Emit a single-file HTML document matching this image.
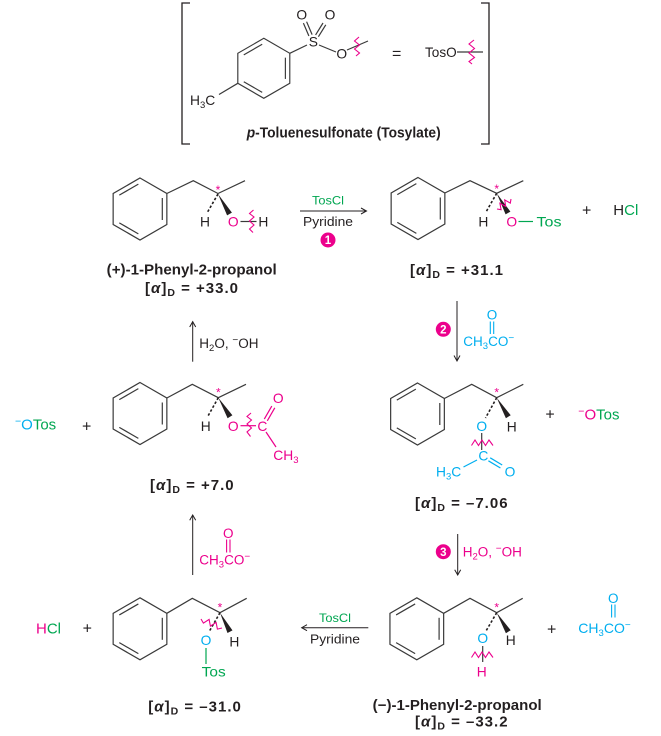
<!DOCTYPE html>
<html><head><meta charset="utf-8"><style>
html,body{margin:0;padding:0;background:#fff;}
svg{display:block;}
text{font-family:"Liberation Sans",Arial,sans-serif;}
.a{font-size:13.8px;fill:#231f20;}
.p{fill:#ec008c;} .g{fill:#00a651;} .b{fill:#00aeef;} .k{fill:#231f20;}
.bl{font-size:14.5px;font-weight:bold;fill:#231f20;}
.ln{stroke:#3a3a3a;stroke-width:1.2;fill:none;}
.ar{stroke:#231f20;stroke-width:1;fill:none;}
.zz{stroke:#ec008c;stroke-width:1.1;fill:none;}
.hs{stroke:#231f20;stroke-width:1.6;stroke-dasharray:2.5,2;fill:none;}
.pl{font-size:16px;fill:#231f20;}
.al{font-size:15px;font-weight:bold;fill:#231f20;letter-spacing:1px;}
</style></head><body>
<svg width="661" height="736" viewBox="0 0 661 736" xmlns="http://www.w3.org/2000/svg">
<defs>
<g id="bz" fill="none" stroke="#3a3a3a" stroke-width="1.2">
<polygon points="0,-31 26.85,-15.5 26.85,15.5 0,31 -26.85,15.5 -26.85,-15.5"/>
<line x1="22.3" y1="-11" x2="22.3" y2="11"/>
<line x1="-20.7" y1="-13.85" x2="-1.65" y2="-24.85"/>
<line x1="-20.7" y1="13.85" x2="-1.65" y2="24.85"/>
</g>
</defs>

<!-- ===== Tosylate box ===== -->
<path d="M190,3 H182 V144 H190 M481,3 H489 V144 H481" stroke="#231f20" stroke-width="1.3" fill="none"/>
<use href="#bz" transform="translate(263.8,68.3) scale(0.968)"/>
<line class="ln" x1="237.8" y1="83.3" x2="219" y2="94.5"/>
<text class="a" x="190" y="105">H<tspan style="font-size:9.5px" dy="3">3</tspan><tspan dy="-3">C</tspan></text>
<line class="ln" x1="289.8" y1="53.3" x2="307" y2="45"/>
<text class="a" x="313.3" y="46.5" text-anchor="middle">S</text>
<line class="ln" x1="312.1" y1="34.6" x2="306.6" y2="21.7"/>
<line class="ln" x1="308.9" y1="36" x2="303.4" y2="23.1"/>
<line class="ln" x1="318.4" y1="36.7" x2="325.8" y2="24.8"/>
<line class="ln" x1="315.6" y1="34.9" x2="323" y2="23"/>
<text class="a" x="301.7" y="19.7" text-anchor="middle">O</text>
<text class="a" x="330" y="19.7" text-anchor="middle">O</text>
<line class="ln" x1="319" y1="45" x2="336" y2="52"/>
<text class="a" x="341.7" y="58.7" text-anchor="middle">O</text>
<line class="ln" x1="347" y1="50" x2="368" y2="41"/>
<path class="zz" d="M359,37 L354.5,41 L359.5,45 L354.5,49 L359.5,53 L356,56"/>
<text class="pl" x="396.7" y="58.5" text-anchor="middle">=</text>
<text class="a" x="425" y="57" textLength="31.7" lengthAdjust="spacingAndGlyphs">TosO</text>
<line class="ln" x1="457" y1="52" x2="483" y2="52"/>
<path class="zz" d="M474,40 L469,44 L474.5,48.5 L469,53 L474.5,57.5 L469,61.5 L472,64"/>
<text class="bl" x="246.7" y="137.5" textLength="194" lengthAdjust="spacingAndGlyphs"><tspan font-style="italic">p</tspan>-Toluenesulfonate (Tosylate)</text>

<!-- ===== Mol 1: (+)-alcohol ===== -->
<use href="#bz" x="140" y="209"/>
<polyline class="ln" points="166.85,193.5 193.3,180.7 218,193.5 245,180.7"/>
<text class="p" x="218" y="194" style="font-size:12px" text-anchor="middle">*</text>
<line class="hs" x1="218" y1="194" x2="207" y2="213"/>
<polygon points="218,194 231.9,212.6 227.1,215.4" fill="#231f20"/>
<text class="a" x="205" y="226.7" text-anchor="middle">H</text>
<text class="a p" x="233.3" y="226.7" text-anchor="middle">O</text>
<line class="ln" x1="240.5" y1="221.5" x2="256.5" y2="221.5"/>
<path class="zz" d="M253.5,210 L249.5,213.5 L254,217 L249.5,221 L254,225 L249.5,229 L253,232.5"/>
<text class="a" x="263.3" y="226.7" text-anchor="middle">H</text>
<text class="bl" x="191.7" y="274.5" text-anchor="middle" textLength="170" lengthAdjust="spacingAndGlyphs">(+)-1-Phenyl-2-propanol</text>
<text class="al" x="145" y="293">[<tspan font-style="italic">α</tspan>]<tspan style="font-size:10.5px" dy="3">D</tspan><tspan dy="-3"> = +33.0</tspan></text>

<!-- Arrow 1 -->
<line class="ar" x1="300" y1="211" x2="366.5" y2="211"/>
<polyline class="ar" points="361,208 366.5,211 361,214"/>
<text class="g" x="328" y="204.5" style="font-size:12px" text-anchor="middle" textLength="32" lengthAdjust="spacingAndGlyphs">TosCl</text>
<text class="k" x="328" y="226" style="font-size:12.5px" text-anchor="middle" textLength="50" lengthAdjust="spacingAndGlyphs">Pyridine</text>
<circle cx="328" cy="240" r="7.5" fill="#ec008c"/>
<text x="328" y="244.2" style="font-size:11.5px;font-weight:bold" fill="#fff" text-anchor="middle">1</text>

<!-- ===== Mol 2: tosylate (+31.1) ===== -->
<use href="#bz" x="418" y="208.5"/>
<polyline class="ln" points="444.85,193 470,180.7 496.7,193.3 523.3,180.7"/>
<text class="p" x="496.7" y="193" style="font-size:12px" text-anchor="middle">*</text>
<line class="hs" x1="496.7" y1="193.3" x2="486" y2="212"/>
<polygon points="496.7,193.3 510.4,211.6 505.6,214.4" fill="#231f20"/>
<path class="zz" d="M497,209 L501.1,209.7 L499.9,203.3 L505.7,206.4 L504.7,199.9 L510.3,203.1 L511,199"/>
<text class="a" x="483.3" y="226.7" text-anchor="middle">H</text>
<text class="a p" x="511.7" y="226.7" text-anchor="middle">O</text>
<line x1="518.5" y1="221.5" x2="533" y2="221.5" stroke="#00a651" stroke-width="1.2"/>
<text class="a g" x="536.5" y="226.7" textLength="25" lengthAdjust="spacingAndGlyphs">Tos</text>
<text class="pl" x="586.7" y="215.5" text-anchor="middle">+</text>
<text class="a" x="613.3" y="215" style="font-size:15px">H<tspan class="g">Cl</tspan></text>
<text class="al" x="410" y="275">[<tspan font-style="italic">α</tspan>]<tspan style="font-size:10.5px" dy="3">D</tspan><tspan dy="-3"> = +31.1</tspan></text>

<!-- Arrow 2 -->
<line class="ar" x1="457" y1="301" x2="457" y2="361"/>
<polyline class="ar" points="454,355.5 457,361 460,355.5"/>
<circle cx="443.3" cy="329.3" r="7.5" fill="#ec008c"/>
<text x="443.3" y="333.5" style="font-size:11.5px;font-weight:bold" fill="#fff" text-anchor="middle">2</text>
<text class="b" x="492" y="319.5" style="font-size:13.5px" text-anchor="middle">O</text>
<line x1="490.3" y1="321.5" x2="490.3" y2="334" stroke="#00aeef" stroke-width="1.1"/>
<line x1="493.7" y1="321.5" x2="493.7" y2="334" stroke="#00aeef" stroke-width="1.1"/>
<text class="b" x="463.3" y="346" style="font-size:13.5px">CH<tspan style="font-size:9.5px" dy="3">3</tspan><tspan dy="-3">CO</tspan><tspan style="font-size:10px" dy="-5">−</tspan></text>

<!-- ===== Mol 3: acetate (-7.06) ===== -->
<use href="#bz" x="417.5" y="414"/>
<polyline class="ln" points="444.35,398.5 471.7,384.3 496.7,397.7 523.3,384.3"/>
<text class="p" x="496.7" y="396.5" style="font-size:12px" text-anchor="middle">*</text>
<line class="hs" x1="496.7" y1="397.7" x2="485.5" y2="418"/>
<polygon points="496.7,397.7 510.7,415.2 505.9,418.2" fill="#231f20"/>
<text class="a b" x="481.7" y="430.9" text-anchor="middle">O</text>
<text class="a" x="511.7" y="431.6" text-anchor="middle">H</text>
<line class="ln" x1="481.7" y1="433" x2="481.7" y2="450"/>
<path class="zz" d="M471.5,445.5 L475,440 L478.5,445.5 L482,440 L485.5,445.5 L489,440 L493,445.5"/>
<text class="a b" x="483.3" y="460.6" text-anchor="middle">C</text>
<line x1="463.5" y1="467" x2="477" y2="460" stroke="#00aeef" stroke-width="1.2"/>
<text class="a b" x="436" y="476.4">H<tspan style="font-size:9.5px" dy="3">3</tspan><tspan dy="-3">C</tspan></text>
<line x1="488.4" y1="460.8" x2="500.4" y2="468" stroke="#00aeef" stroke-width="1.2"/>
<line x1="490.2" y1="457.8" x2="502.2" y2="465" stroke="#00aeef" stroke-width="1.2"/>
<text class="a b" x="510" y="476.4" text-anchor="middle">O</text>
<text class="pl" x="550" y="419.5" text-anchor="middle">+</text>
<text class="a" x="578.3" y="419.7" style="font-size:15px"><tspan class="p" style="font-size:10.5px" dy="-5">−</tspan><tspan class="p" dy="5">O</tspan><tspan class="g">Tos</tspan></text>
<text class="al" x="415" y="508">[<tspan font-style="italic">α</tspan>]<tspan style="font-size:10.5px" dy="3">D</tspan><tspan dy="-3"> = –7.06</tspan></text>

<!-- Arrow up (row1 left) -->
<line class="ar" x1="192.7" y1="321.7" x2="192.7" y2="361.7"/>
<polyline class="ar" points="189.7,327 192.7,321.7 195.7,327"/>
<text class="k" x="199.3" y="348" style="font-size:13.5px">H<tspan style="font-size:9.5px" dy="3">2</tspan><tspan dy="-3">O, </tspan><tspan style="font-size:10px" dy="-5">−</tspan><tspan dy="5">OH</tspan></text>

<!-- ===== Mol 4: acetate (+7.0) ===== -->
<use href="#bz" x="140" y="413.5"/>
<polyline class="ln" points="166.85,398 192.3,384.3 218.3,397.7 246,384.3"/>
<text class="p" x="218.3" y="396.5" style="font-size:12px" text-anchor="middle">*</text>
<line class="hs" x1="218.3" y1="397.7" x2="208" y2="416"/>
<polygon points="218.3,397.7 232.4,415.2 227.6,418.2" fill="#231f20"/>
<text class="a" x="205.7" y="430.9" text-anchor="middle">H</text>
<text class="a p" x="233.3" y="430.9" text-anchor="middle">O</text>
<line x1="240.5" y1="425.7" x2="256" y2="425.7" stroke="#ec008c" stroke-width="1.2"/>
<path class="zz" d="M251,413 L247,416.5 L251.5,420 L247,424 L251.5,428 L247,432 L250.5,436.5"/>
<text class="a p" x="262.3" y="430.9" text-anchor="middle">C</text>
<line x1="267.3" y1="420.8" x2="274.8" y2="407.8" stroke="#ec008c" stroke-width="1.2"/>
<line x1="264.3" y1="419.1" x2="271.8" y2="406.1" stroke="#ec008c" stroke-width="1.2"/>
<text class="a p" x="278.3" y="403.2" text-anchor="middle">O</text>
<line x1="266" y1="432" x2="276" y2="447" stroke="#ec008c" stroke-width="1.2"/>
<text class="a p" x="273.3" y="459.9">CH<tspan style="font-size:9.5px" dy="3">3</tspan></text>
<text class="a" x="15" y="429.7" style="font-size:15px"><tspan class="b" style="font-size:10.5px" dy="-5">−</tspan><tspan class="b" dy="5">O</tspan><tspan class="g">Tos</tspan></text>
<text class="pl" x="86.7" y="431.5" text-anchor="middle">+</text>
<text class="al" x="150" y="490">[<tspan font-style="italic">α</tspan>]<tspan style="font-size:10.5px" dy="3">D</tspan><tspan dy="-3"> = +7.0</tspan></text>

<!-- Arrow up (row2 left) -->
<line class="ar" x1="192.7" y1="515" x2="192.7" y2="575"/>
<polyline class="ar" points="189.7,520.3 192.7,515 195.7,520.3"/>
<text class="p" x="228.3" y="538" style="font-size:13.5px" text-anchor="middle">O</text>
<line x1="226.6" y1="539.5" x2="226.6" y2="552.5" stroke="#ec008c" stroke-width="1.1"/>
<line x1="230" y1="539.5" x2="230" y2="552.5" stroke="#ec008c" stroke-width="1.1"/>
<text class="p" x="199.3" y="564.7" style="font-size:13.5px">CH<tspan style="font-size:9.5px" dy="3">3</tspan><tspan dy="-3">CO</tspan><tspan style="font-size:10px" dy="-5">−</tspan></text>

<!-- ===== Mol 5: tosylate (-31.0) ===== -->
<use href="#bz" x="140" y="628.8"/>
<polyline class="ln" points="166.85,613.3 192.3,598.3 220,612.7 246.7,598.3"/>
<text class="p" x="220" y="611.5" style="font-size:12px" text-anchor="middle">*</text>
<line class="hs" x1="220" y1="612.7" x2="209.5" y2="631"/>
<polygon points="220,612.7 232.5,630.4 227.5,633" fill="#231f20"/>
<path class="zz" d="M201,619 L203.4,623.1 L209.1,619.4 L210.4,626.1 L216.1,622.4 L217.4,629.1 L222,628"/>
<text class="a b" x="206" y="644.9" text-anchor="middle">O</text>
<text class="a" x="234.3" y="646.6" text-anchor="middle">H</text>
<line x1="206" y1="648" x2="206" y2="664" stroke="#00a651" stroke-width="1.2"/>
<text class="a g" x="201.7" y="676.6" textLength="24" lengthAdjust="spacingAndGlyphs">Tos</text>
<text class="a" x="36" y="633.5" style="font-size:15px"><tspan class="p">H</tspan><tspan class="g">Cl</tspan></text>
<text class="pl" x="87.3" y="633.5" text-anchor="middle">+</text>
<text class="al" x="148.3" y="711.5">[<tspan font-style="italic">α</tspan>]<tspan style="font-size:10.5px" dy="3">D</tspan><tspan dy="-3"> = –31.0</tspan></text>

<!-- Arrow left -->
<line class="ar" x1="301.7" y1="627.7" x2="368.3" y2="627.7"/>
<polyline class="ar" points="307,624.7 301.7,627.7 307,630.7"/>
<text class="g" x="335" y="622" style="font-size:12px" text-anchor="middle" textLength="32" lengthAdjust="spacingAndGlyphs">TosCl</text>
<text class="k" x="335" y="643.5" style="font-size:12.5px" text-anchor="middle" textLength="50" lengthAdjust="spacingAndGlyphs">Pyridine</text>

<!-- Arrow 3 -->
<line class="ar" x1="457.7" y1="534" x2="457.7" y2="575"/>
<polyline class="ar" points="454.7,569.7 457.7,575 460.7,569.7"/>
<circle cx="443.3" cy="551.7" r="7.5" fill="#ec008c"/>
<text x="443.3" y="555.9" style="font-size:11.5px;font-weight:bold" fill="#fff" text-anchor="middle">3</text>
<text class="p" x="462.7" y="556.4" style="font-size:13.5px">H<tspan style="font-size:9.5px" dy="3">2</tspan><tspan dy="-3">O, </tspan><tspan style="font-size:10px" dy="-5">−</tspan><tspan dy="5">OH</tspan></text>

<!-- ===== Mol 6: (-)-alcohol ===== -->
<use href="#bz" x="416.8" y="628.8"/>
<polyline class="ln" points="443.65,613.3 470,598.3 496.7,612.7 522.7,598.3"/>
<text class="p" x="496.7" y="611.5" style="font-size:12px" text-anchor="middle">*</text>
<line class="hs" x1="496.7" y1="612.7" x2="486" y2="631"/>
<polygon points="496.7,612.7 510.7,630.2 505.9,633.2" fill="#231f20"/>
<text class="a b" x="482.7" y="643.2" text-anchor="middle">O</text>
<text class="a" x="510.7" y="644.9" text-anchor="middle">H</text>
<line class="ln" x1="482.7" y1="646" x2="482.7" y2="662"/>
<path class="zz" d="M471.5,657.5 L475,652 L478.5,657.5 L482,652 L485.5,657.5 L489,652 L493,657.5"/>
<text class="a p" x="481.7" y="676.6" text-anchor="middle">H</text>
<text class="pl" x="551.7" y="634.5" text-anchor="middle">+</text>
<text class="b" x="613.3" y="603" style="font-size:13.5px" text-anchor="middle">O</text>
<line x1="611.6" y1="604.5" x2="611.6" y2="617.5" stroke="#00aeef" stroke-width="1.1"/>
<line x1="615" y1="604.5" x2="615" y2="617.5" stroke="#00aeef" stroke-width="1.1"/>
<text class="b" x="578.3" y="633" style="font-size:14px">CH<tspan style="font-size:9.5px" dy="3">3</tspan><tspan dy="-3">CO</tspan><tspan style="font-size:10px" dy="-5">−</tspan></text>
<text class="bl" x="457.2" y="710" text-anchor="middle" textLength="169" lengthAdjust="spacingAndGlyphs">(−)-1-Phenyl-2-propanol</text>
<text class="al" x="415" y="726.5">[<tspan font-style="italic">α</tspan>]<tspan style="font-size:10.5px" dy="3">D</tspan><tspan dy="-3"> = –33.2</tspan></text>
</svg>
</body></html>
